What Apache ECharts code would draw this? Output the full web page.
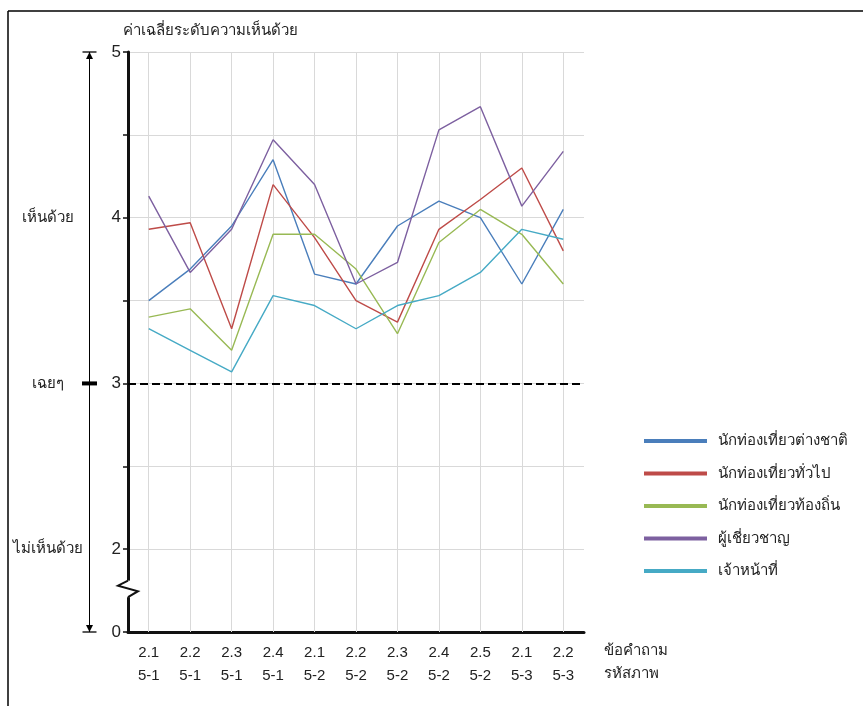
<!DOCTYPE html>
<html><head><meta charset="utf-8">
<script src="https://cdn.jsdelivr.net/npm/echarts@6/dist/echarts.min.js"></script>
<style>html,body{margin:0;padding:0;background:#fff;}#c{width:863px;height:706px;}</style>
</head><body><div id="c"></div>
<script>
const questions = ["2.1","2.2","2.3","2.4","2.1","2.2","2.3","2.4","2.5","2.1","2.2"];
const imageCodes = ["5-1","5-1","5-1","5-1","5-2","5-2","5-2","5-2","5-2","5-3","5-3"];
const seriesNames = ["นักท่องเที่ยวต่างชาติ","นักท่องเที่ยวทั่วไป","นักท่องเที่ยวท้องถิ่น","ผู้เชี่ยวชาญ","เจ้าหน้าที่"];
const foreignTourists = [3.50,3.69,3.95,4.35,3.66,3.60,3.95,4.10,4.00,3.60,4.05];
const generalTourists = [3.93,3.97,3.33,4.20,3.88,3.50,3.37,3.93,4.11,4.30,3.80];
const localTourists   = [3.40,3.45,3.20,3.90,3.90,3.69,3.30,3.85,4.05,3.90,3.60];
const experts         = [4.13,3.67,3.93,4.47,4.20,3.60,3.73,4.53,4.67,4.07,4.40];
const officers        = [3.33,3.20,3.07,3.53,3.47,3.33,3.47,3.53,3.67,3.93,3.87];
const colors = ["#4a7ebb","#be4b48","#98b954","#7d60a0","#46aac5"];
const yTickLabels = {"1.5":"0","2":"2","3":"3","4":"4","5":"5"};
const yTitle = "ค่าเฉลี่ยระดับความเห็นด้วย";
const xRightLabels = ["ข้อคำถาม","รหัสภาพ"];
const sideLabels = [{v:4,t:"เห็นด้วย"},{v:3,t:"เฉยๆ"},{v:2,t:"ไม่เห็นด้วย"}];

const categories = questions.map((q,i)=>q+"\n"+imageCodes[i]);
const valuesList = [foreignTourists, generalTourists, localTourists, experts, officers];
const FONT = "'Liberation Sans', Arial, 'Noto Sans', sans-serif";

const chart = echarts.init(document.getElementById('c'), null, {renderer:'canvas'});
const series = seriesNames.map((n,i)=>({
  name:n, type:'line', data:valuesList[i], symbol:'none', z:3,
  lineStyle:{color:colors[i], width:1.4}, itemStyle:{color:colors[i]}
}));
series.push({
  name:'_grid', type:'line', data:[], z:1, silent:true,
  markLine:{silent:true, symbol:'none', z:1, label:{show:false},
    lineStyle:{color:'#d9d9d9', type:'solid', width:1},
    data: categories.map((c,i)=>({xAxis:i}))}
});
series.push({
  name:'_neutral', type:'line', data:[], z:4, silent:true,
  markLine:{silent:true, symbol:'none', z:4, label:{show:false},
    lineStyle:{color:'#000', type:[8,4], width:1.8},
    data:[{yAxis:3}]}
});

chart.setOption({
  animation:false,
  textStyle:{fontFamily:FONT},
  grid:{left:128, right:279, top:52, bottom:74, containLabel:false},
  legend:{
    data:seriesNames, orient:'vertical', left:639, top:426,
    icon:'rect', itemWidth:63, itemHeight:4, itemGap:12.5,
    textStyle:{fontSize:15, color:'#222', lineHeight:20, padding:[0,0,0,6], fontFamily:FONT}
  },
  xAxis:{
    type:'category', data:categories, boundaryGap:true,
    axisLine:{lineStyle:{color:'#111', width:3}},
    axisTick:{alignWithLabel:true, inside:true, length:4, lineStyle:{color:'#111', width:1.2}},
    axisLabel:{fontSize:15, color:'#222', lineHeight:23, margin:9, interval:0, fontFamily:FONT},
    splitLine:{show:false}
  },
  yAxis:{
    type:'value', min:1.5, max:5, interval:0.5,
    axisLine:{show:true, lineStyle:{color:'#111', width:3}},
    axisTick:{show:true, length:5, lineStyle:{color:'#111', width:1.5}},
    axisLabel:{fontSize:17, color:'#222', margin:7, fontFamily:FONT,
      formatter:(v)=>{const k=String(Math.round(v*10)/10); return yTickLabels[k]!==undefined?yTickLabels[k]:'';}},
    splitLine:{show:true, lineStyle:{color:'#d9d9d9', width:1}}
  },
  series:series
});

function px(v){ return chart.convertToPixel({yAxisIndex:0}, v); }
const yTop = px(5), yBot = px(1.5), axisX = chart.convertToPixel({xAxisIndex:0}, 0) - (chart.convertToPixel({xAxisIndex:0},1)-chart.convertToPixel({xAxisIndex:0},0))/2;
const arrowX = 89.5;
const g = [];
// frame
g.push({type:'line', shape:{x1:8,y1:11,x2:863,y2:11}, style:{stroke:'#000', lineWidth:1.5}});
g.push({type:'line', shape:{x1:8,y1:11,x2:8,y2:706}, style:{stroke:'#000', lineWidth:1.5}});
// title
g.push({type:'text', left:123, top:23, style:{text:yTitle, fontSize:15, fill:'#222', fontFamily:FONT}});
// double arrow
g.push({type:'line', shape:{x1:arrowX,y1:yTop,x2:arrowX,y2:yBot}, style:{stroke:'#000', lineWidth:1}});
g.push({type:'line', shape:{x1:arrowX-7,y1:yTop,x2:arrowX+7,y2:yTop}, style:{stroke:'#000', lineWidth:1.3}});
g.push({type:'line', shape:{x1:arrowX-7,y1:yBot,x2:arrowX+7,y2:yBot}, style:{stroke:'#000', lineWidth:1.3}});
g.push({type:'polygon', shape:{points:[[arrowX,yTop],[arrowX-3.5,yTop+7],[arrowX+3.5,yTop+7]]}, style:{fill:'#000'}});
g.push({type:'polygon', shape:{points:[[arrowX,yBot],[arrowX-3.5,yBot-7],[arrowX+3.5,yBot-7]]}, style:{fill:'#000'}});
// neutral thick mark
const y3 = px(3);
g.push({type:'rect', shape:{x:arrowX-7.5,y:y3-2,width:15,height:4}, style:{fill:'#000'}});
sideLabels.forEach(s=>{
  g.push({type:'text', x:48, y:px(s.v), style:{text:s.t, fontSize:15, fill:'#222', align:'center', verticalAlign:'middle', fontFamily:FONT}});
});
// axis break
const b1 = px(1.81), b2 = px(1.71);
g.push({type:'rect', shape:{x:axisX-3,y:b1,width:6,height:b2-b1}, style:{fill:'#fff'}, z:10});
g.push({type:'polyline', shape:{points:[[axisX,b1],[axisX-10,b1+5],[axisX+10,b1+10.6],[axisX,b2]]}, style:{stroke:'#111', lineWidth:2, fill:null}, z:11});
// right x labels
g.push({type:'text', x:604, y:651, style:{text:xRightLabels[0], fontSize:15, fill:'#222', verticalAlign:'middle', fontFamily:FONT}});
g.push({type:'text', x:604, y:674, style:{text:xRightLabels[1], fontSize:15, fill:'#222', verticalAlign:'middle', fontFamily:FONT}});
chart.setOption({graphic:g});
</script></body></html>
